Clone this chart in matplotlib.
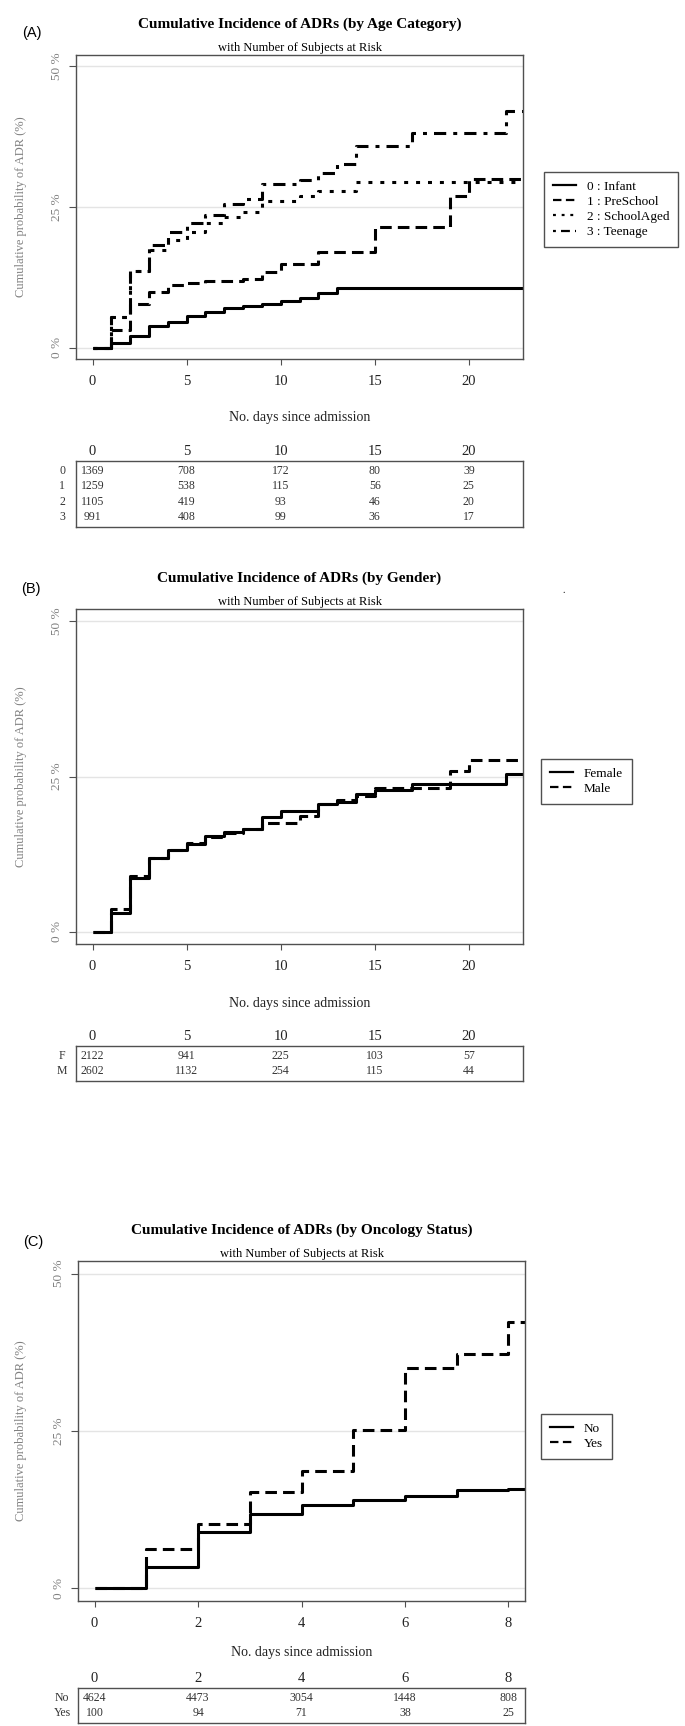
#!/usr/bin/env python
"""plot.py"""
import matplotlib.pyplot as plt
from matplotlib.lines import Line2D
from matplotlib.transforms import blended_transform_factory

plt.rcParams['font.family'] = ['Liberation Serif', 'DejaVu Serif']

W, H = 685, 1726

# (A) by age category, cumulative incidence (%) per day
days_a = list(range(24))
infant = [0, 0.8, 2.0, 3.9, 4.6, 5.6, 6.3, 7.0, 7.5, 7.8, 8.3, 8.9, 9.7, 10.6,
          10.6, 10.6, 10.6, 10.6, 10.6, 10.6, 10.6, 10.6, 10.6, 10.6]
preschool = [0, 3.2, 7.8, 9.9, 11.1, 11.5, 11.8, 11.8, 12.2, 13.5, 14.9, 14.9,
             17.0, 17.0, 17.0, 21.5, 21.5, 21.5, 21.5, 26.9, 29.9, 29.9, 29.9, 29.9]
schoolaged = [0, 5.5, 13.7, 17.4, 19.2, 20.6, 22.2, 23.2, 24.2, 26.0, 26.0, 26.9,
              27.9, 27.9, 29.5, 29.5, 29.5, 29.5, 29.5, 29.5, 29.5, 29.5, 29.5, 29.5]
teenage = [0, 5.4, 13.7, 18.2, 20.5, 22.1, 23.5, 25.6, 26.5, 29.1, 29.1, 29.8,
           31.1, 32.6, 35.9, 35.9, 35.9, 38.2, 38.2, 38.2, 38.2, 38.2, 42.0, 42.0]
labels_a = ['0 : Infant', '1 : PreSchool', '2 : SchoolAged', '3 : Teenage']
ticks_a = [0, 5, 10, 15, 20]
risk_names_a = ['0', '1', '2', '3']
risk_infant = [1369, 708, 172, 80, 39]
risk_preschool = [1259, 538, 115, 56, 25]
risk_schoolaged = [1105, 419, 93, 46, 20]
risk_teenage = [991, 408, 99, 36, 17]

# (B) by gender
days_b = list(range(24))
female = [0, 3.0, 8.7, 11.8, 13.1, 14.2, 15.4, 16.0, 16.6, 18.5, 19.5, 19.5,
          20.6, 20.9, 22.1, 22.9, 22.9, 23.8, 23.8, 23.8, 23.8, 23.8, 25.4, 25.4]
male = [0, 3.7, 9.0, 11.8, 13.1, 14.3, 15.2, 15.9, 16.5, 17.5, 17.5, 18.7,
        20.6, 21.2, 21.9, 23.1, 23.1, 23.1, 23.1, 25.9, 27.6, 27.6, 27.6, 27.6]
labels_b = ['Female', 'Male']
ticks_b = [0, 5, 10, 15, 20]
risk_names_b = ['F', 'M']
risk_female = [2122, 941, 225, 103, 57]
risk_male = [2602, 1132, 254, 115, 44]

# (C) by oncology status
days_c = list(range(10))
onc_no = [0, 3.35, 9.0, 11.8, 13.2, 14.0, 14.6, 15.6, 15.8, 15.8]
onc_yes = [0, 6.2, 10.2, 15.3, 18.7, 25.1, 35.0, 37.2, 42.3, 42.3]
labels_c = ['No', 'Yes']
ticks_c = [0, 2, 4, 6, 8]
risk_names_c = ['No', 'Yes']
risk_no = [4624, 4473, 3054, 1448, 808]
risk_yes = [100, 94, 71, 38, 25]

STYLES = ['-', (0, (3.8, 2.0)), (0, (1.3, 2.6)), (0, (1.3, 2.3, 4.0, 2.3))]
GREY = '#808080'
FRAME = '#505050'


def rect_px(left, top, right, bottom):
    """pixel box -> figure fraction rect"""
    return [left / W, 1 - bottom / H, (right - left) / W, (bottom - top) / H]


def plot_panel(fig, box, days, curves, labels, xticks, xmax, title, tag,
               tag_xy, title_y, xlab_y, leg_xy, risk_box, risk_rows, risk_names):
    """One cumulative incidence panel with its risk table"""
    left, top, right, bottom = box
    ax = fig.add_axes(rect_px(*box))
    xlim = (-0.04 * xmax, 1.04 * xmax)
    for g in (0, 25, 50):
        ax.axhline(g, color='#e4e4e4', lw=1, zorder=0)
    for i, vals in enumerate(curves):
        ax.step(days, vals, where='post', color='black', lw=2.2,
                linestyle=STYLES[i], solid_capstyle='butt',
                dash_capstyle='butt')
    ax.set_xlim(*xlim)
    ax.set_ylim(-2, 52)
    ax.set_xticks(xticks)
    ax.set_yticks([0, 25, 50])
    ax.set_yticklabels(['0 %', '25 %', '50 %'], rotation=90, va='center')
    ax.tick_params(axis='x', length=4.5, width=0.8, color=FRAME, labelsize=10.5,
                   pad=7, labelcolor='#222222')
    ax.tick_params(axis='y', length=5, width=0.8, color=FRAME, labelsize=9.5,
                   pad=4, labelcolor=GREY)
    for s in ax.spines.values():
        s.set_color(FRAME)
        s.set_linewidth(1)

    ax.set_ylabel('Cumulative probability of ADR (%)', color=GREY, fontsize=9)
    ax.yaxis.set_label_coords((21 - left) / (right - left), 0.5)
    ax.yaxis.label.set_va('center')
    ax.set_xlabel('No. days since admission', fontsize=10, color='#222222')
    ax.xaxis.set_label_coords(0.5, (bottom - xlab_y) / (bottom - top))
    ax.xaxis.label.set_va('center')

    cx = (left + right) / 2 / W
    fig.text(cx, 1 - title_y / H, title, ha='center', va='center',
             fontsize=11, fontweight='bold')
    fig.text(cx, 1 - (title_y + 24) / H, 'with Number of Subjects at Risk',
             ha='center', va='center', fontsize=9)
    fig.text(tag_xy[0] / W, 1 - tag_xy[1] / H, tag, ha='center', va='center',
             fontsize=10.5, family='Liberation Sans')

    handles = [Line2D([], [], color='black', lw=1.6, linestyle=STYLES[i])
               for i in range(len(labels))]
    leg = ax.legend(handles, labels, loc='upper left',
                    bbox_to_anchor=(leg_xy[0] / W, 1 - leg_xy[1] / H),
                    bbox_transform=fig.transFigure, borderaxespad=0,
                    fontsize=9.5, fancybox=False, framealpha=1,
                    handlelength=1.8, handletextpad=0.8, borderpad=0.65,
                    labelspacing=0.22)
    leg.get_frame().set_edgecolor(FRAME)
    leg.get_frame().set_linewidth(1)

    # number at risk table
    axr = fig.add_axes(rect_px(*risk_box))
    n = len(risk_rows)
    axr.set_xlim(*xlim)
    axr.set_ylim(n - 0.35, -0.65)
    axr.set_xticks(xticks)
    axr.xaxis.tick_top()
    axr.tick_params(axis='x', length=0, pad=2, labelsize=10.5,
                    labelcolor='#222222')
    axr.set_yticks([])
    for s in axr.spines.values():
        s.set_color(FRAME)
        s.set_linewidth(1)
    trans = blended_transform_factory(axr.transAxes, axr.transData)
    lx = (62 - risk_box[0]) / (risk_box[2] - risk_box[0])
    for i, (name, row) in enumerate(zip(risk_names, risk_rows)):
        axr.text(lx, i, name, transform=trans, ha='center', va='center',
                 fontsize=8.5, color='#333333')
        for x, v in zip(xticks, row):
            axr.text(x, i, str(v), ha='center', va='center', fontsize=8.5,
                     color='#333333')
    return ax


fig = plt.figure(figsize=(W / 100, H / 100), dpi=100)

plot_panel(fig, (76, 55, 523, 359), days_a,
           [infant, preschool, schoolaged, teenage], labels_a, ticks_a, 22,
           'Cumulative Incidence of ADRs (by Age Category)', '(A)', (32, 33),
           24, 418, (544, 172), (76, 461, 523, 527),
           [risk_infant, risk_preschool, risk_schoolaged, risk_teenage],
           risk_names_a)

plot_panel(fig, (76, 609, 523, 944), days_b, [female, male], labels_b,
           ticks_b, 22, 'Cumulative Incidence of ADRs (by Gender)', '(B)',
           (31, 589), 578, 1003, (541, 759), (76, 1046, 523, 1081),
           [risk_female, risk_male], risk_names_b)
fig.text(564 / W, 1 - 590 / H, '.', fontsize=7, ha='center', va='center')

plot_panel(fig, (78, 1261, 525, 1601), days_c, [onc_no, onc_yes], labels_c,
           ticks_c, 8, 'Cumulative Incidence of ADRs (by Oncology Status)',
           '(C)', (33, 1242), 1230, 1652, (541, 1414), (78, 1688, 525, 1723),
           [risk_no, risk_yes], risk_names_c)

fig.savefig('out.png', dpi=100)
plt.close()
